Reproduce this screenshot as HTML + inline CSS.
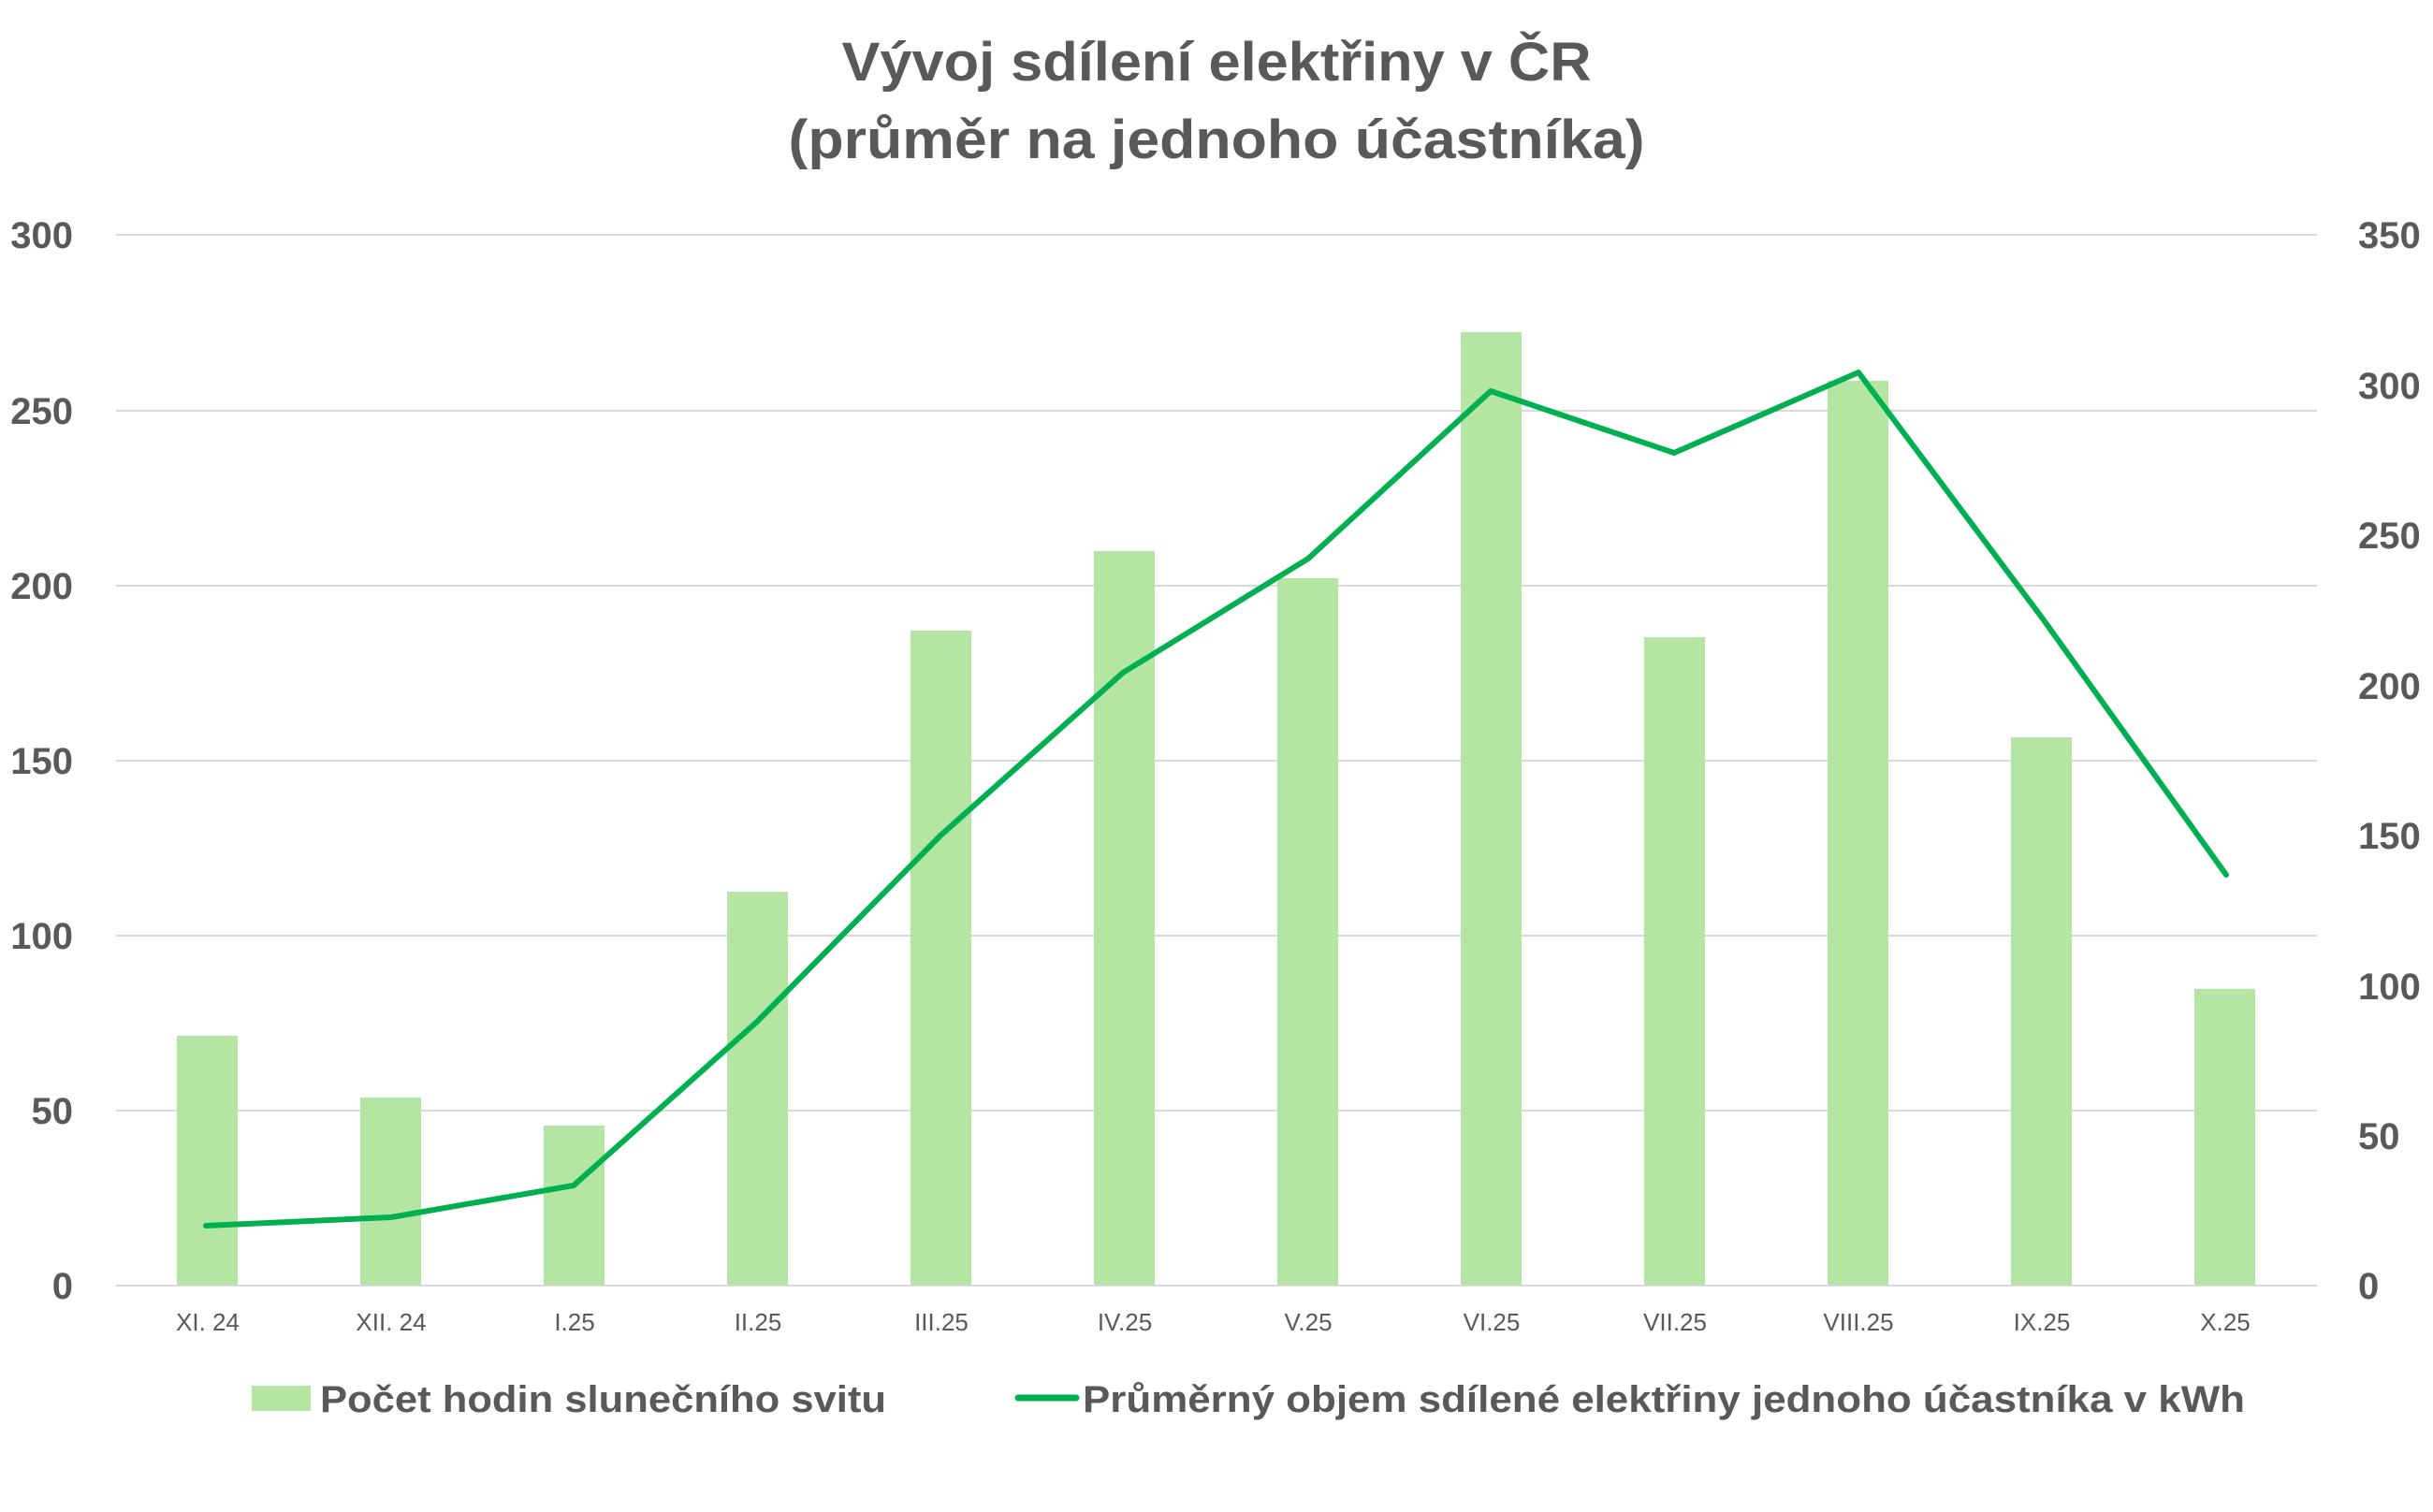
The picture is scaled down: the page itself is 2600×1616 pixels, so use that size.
<!DOCTYPE html>
<html><head><meta charset="utf-8"><style>html,body{margin:0;padding:0;background:#fff}svg{display:block}</style></head>
<body>
<svg width="2600" height="1616" viewBox="0 0 2600 1616" xmlns="http://www.w3.org/2000/svg" font-family="Liberation Sans, sans-serif">
<rect width="2600" height="1616" fill="#fff"/>
<g fill="#595959" font-weight="bold" font-size="58" text-anchor="middle">
<text x="1300" y="86" textLength="801" lengthAdjust="spacingAndGlyphs">Vývoj sdílení elektřiny v ČR</text>
<text x="1300" y="169" textLength="915" lengthAdjust="spacingAndGlyphs">(průměr na jednoho účastníka)</text>
</g>
<g stroke="#d9d9d9" stroke-width="2">
<line x1="124" x2="2476" y1="251" y2="251"/><line x1="124" x2="2476" y1="439" y2="439"/>
<line x1="124" x2="2476" y1="626" y2="626"/><line x1="124" x2="2476" y1="813" y2="813"/>
<line x1="124" x2="2476" y1="1000" y2="1000"/><line x1="124" x2="2476" y1="1187" y2="1187"/>
<line x1="124" x2="2476" y1="1374" y2="1374"/>
</g>
<g fill="#595959" font-weight="bold" font-size="40" text-anchor="end">
<text x="78" y="265">300</text><text x="78" y="453">250</text><text x="78" y="640">200</text>
<text x="78" y="827">150</text><text x="78" y="1014">100</text><text x="78" y="1201">50</text><text x="78" y="1388">0</text>
</g>
<g fill="#595959" font-weight="bold" font-size="40" text-anchor="start">
<text x="2520" y="265">350</text><text x="2520" y="426">300</text><text x="2520" y="586">250</text>
<text x="2520" y="747">200</text><text x="2520" y="907">150</text><text x="2520" y="1068">100</text>
<text x="2520" y="1228">50</text><text x="2520" y="1388">0</text>
</g>
<g fill="#b4e5a2">
<rect x="189" y="1107" width="65" height="266"/>
<rect x="385" y="1173" width="65" height="200"/>
<rect x="581" y="1203" width="65" height="170"/>
<rect x="777" y="953" width="65" height="420"/>
<rect x="973" y="674" width="65" height="699"/>
<rect x="1169" y="589" width="65" height="784"/>
<rect x="1365" y="618" width="65" height="755"/>
<rect x="1561" y="355" width="65" height="1018"/>
<rect x="1757" y="681" width="65" height="692"/>
<rect x="1953" y="407" width="65" height="966"/>
<rect x="2149" y="788" width="65" height="585"/>
<rect x="2345" y="1057" width="65" height="316"/>
</g>
<polyline fill="none" stroke="#00b050" stroke-width="6" stroke-linejoin="round" stroke-linecap="round"
points="220,1310 418,1301 613,1267 809,1092 1005,893 1200,719 1398,597 1593,418 1789,484 1986,398 2182,660 2379,935"/>
<g fill="#595959" font-size="26" text-anchor="middle">
<text x="222" y="1422">XI. 24</text><text x="418" y="1422">XII. 24</text><text x="614" y="1422">I.25</text>
<text x="810" y="1422">II.25</text><text x="1006" y="1422">III.25</text><text x="1202" y="1422">IV.25</text>
<text x="1398" y="1422">V.25</text><text x="1594" y="1422">VI.25</text><text x="1790" y="1422">VII.25</text>
<text x="1986" y="1422">VIII.25</text><text x="2182" y="1422">IX.25</text><text x="2378" y="1422">X.25</text>
</g>
<rect x="269" y="1481" width="63" height="27" fill="#b4e5a2"/>
<line x1="1088" x2="1150" y1="1494" y2="1494" stroke="#00b050" stroke-width="7" stroke-linecap="round"/>
<g fill="#595959" font-weight="bold" font-size="40">
<text x="342" y="1509" textLength="605" lengthAdjust="spacingAndGlyphs">Počet hodin slunečního svitu</text>
<text x="1157" y="1509" textLength="1242" lengthAdjust="spacingAndGlyphs">Průměrný objem sdílené elektřiny jednoho účastníka v kWh</text>
</g>
</svg>
</body></html>
